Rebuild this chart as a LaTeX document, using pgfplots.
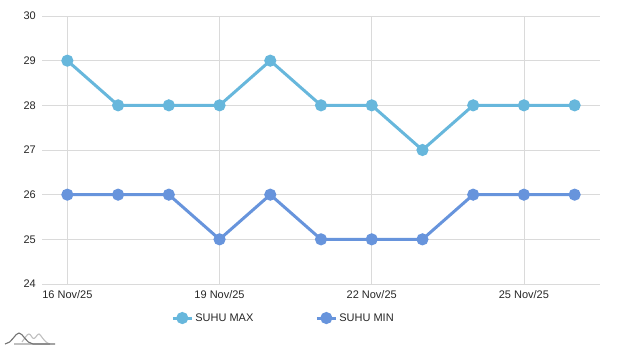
\documentclass[border=0pt]{standalone}
\usepackage{pgfplots}
\pgfplotsset{compat=1.18}
\usepackage{fontspec}
\setmainfont{Liberation Sans}
\definecolor{cmax}{RGB}{103,183,220}
\definecolor{cmin}{RGB}{103,148,220}
\definecolor{gridc}{RGB}{218,218,218}
\begin{document}
\begin{tikzpicture}[x=1pt,y=1pt]
\path[use as bounding box] (0,0) rectangle (620,348);
\begin{axis}[at={(42pt,64pt)}, anchor=south west, scale only axis,
  width=558pt, height=268pt,
  xmin=-0.5, xmax=10.5, ymin=24, ymax=30,
  xtick={0,3,6,9}, xticklabels={16 Nov/25,19 Nov/25,22 Nov/25,25 Nov/25},
  ytick={24,25,...,30},
  grid=major, major grid style={gridc, line width=0.8pt},
  axis line style={draw=none},
  major tick length=0pt,
  tick label style={font=\fontsize{11}{13}\selectfont, text=black!85},
  xticklabel style={inner sep=0pt, anchor=north, yshift=-6pt},
  yticklabel style={inner sep=0pt, anchor=east, xshift=-6pt},
  /pgf/number format/assume math mode=true,
  legend style={at={(0.226,-0.127)}, anchor=west, draw=none, fill=none,
    legend columns=2, font=\fontsize{11}{13}\selectfont, text=black!85,
    /tikz/every even column/.append style={column sep=60pt},
    cells={anchor=west}},
  legend image code/.code={\draw[mark repeat=2,mark phase=2,#1] plot coordinates {(0pt,0pt) (9.5pt,0pt) (19pt,0pt)};},
]
\addplot[cmax, line width=3pt, mark=*, mark size=4.5pt, mark options={solid}] coordinates {
(0,29) (1,28) (2,28) (3,28) (4,29) (5,28) (6,28) (7,27) (8,28) (9,28) (10,28)};
\addlegendentry{SUHU MAX}
\addplot[cmin, line width=3pt, mark=*, mark size=4.5pt, mark options={solid}] coordinates {
(0,26) (1,26) (2,26) (3,25) (4,26) (5,25) (6,25) (7,25) (8,26) (9,26) (10,26)};
\addlegendentry{SUHU MIN}
\end{axis}
% decorative logo
\draw[black!25, line width=1.1pt] (14,4) -- (50,4);
\draw[black!25, line width=1.1pt] (22,6) .. controls (25,10) and (27,14) .. (29,14) .. controls (31,14) and (32,9) .. (34,9.5) .. controls (36,10) and (37,14) .. (39,14) .. controls (41,14) and (43,6) .. (50,4);
\draw[black!55, line width=1.1pt] (5,4) .. controls (12,4.5) and (15,15) .. (19,15) .. controls (23,15) and (26,4.5) .. (33,4) -- (55,4);
\end{tikzpicture}
\end{document}
